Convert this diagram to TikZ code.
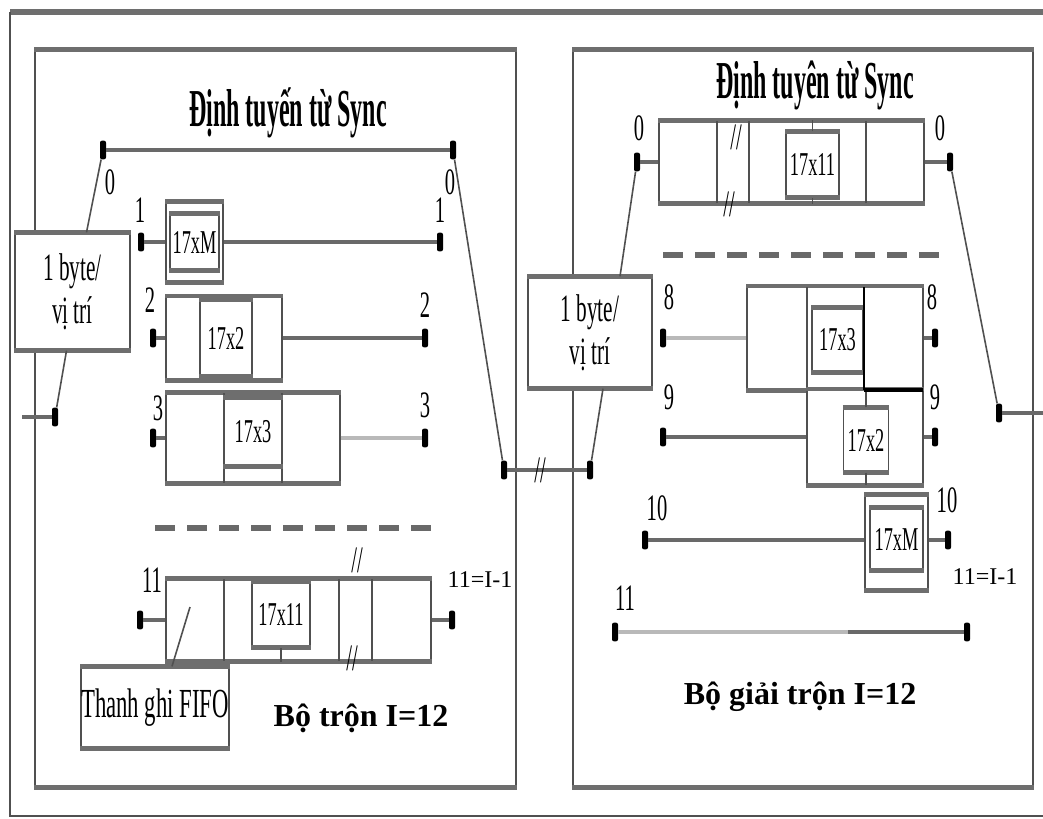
\documentclass[tikz,border=0pt]{standalone}
\usepackage{fontspec}
\setmainfont{Liberation Serif}
\newfontfamily\narrowfont[FakeStretch=0.55]{Liberation Serif}
\newfontfamily\tallfont[FakeStretch=0.45]{Liberation Serif}
\usetikzlibrary{positioning}
\definecolor{wiregray}{RGB}{105,105,105}
\definecolor{palegray}{RGB}{185,185,185}
\definecolor{edgegray}{RGB}{80,80,80}
\definecolor{bargray}{RGB}{110,110,110}
\newlength\unitpx
\setlength\unitpx{0.75pt}

\tikzset{
  bar/.style={draw=bargray, line width=3.5pt},
  cell/.style={draw=edgegray, line width=1pt, fill=white, inner sep=0pt,
    append after command={(\tikzlastnode.north west) edge[bar] (\tikzlastnode.north east)
      (\tikzlastnode.south west) edge[bar] (\tikzlastnode.south east)}},
  sz/.style 2 args={minimum width=#1\unitpx, minimum height=#2\unitpx},
  term/.style={fill=black, rounded corners=1.5pt, minimum width=4.5pt, minimum height=14pt, inner sep=0pt},
  wire/.style={draw=wiregray, line width=3.5pt},
  palewire/.style={draw=palegray, line width=3.5pt},
  mux/.style={draw=edgegray, line width=1.2pt},
  divider/.style={draw=edgegray, line width=1pt},
  gap/.style={draw=wiregray, line width=4pt, dash pattern=on 15pt off 9pt},
  lab/.style={font=\narrowfont\fontsize{28}{28}\selectfont, inner sep=0pt},
  tag/.style={font=\narrowfont\fontsize{25}{26}\selectfont},
  heading/.style={font=\tallfont\bfseries\fontsize{40}{42}\selectfont, inner sep=0pt},
  muxtext/.style={font=\narrowfont\fontsize{29}{32}\selectfont, align=center},
  slash/.style={font=\narrowfont\fontsize{28}{28}\selectfont, inner sep=0pt},
  caption/.style={font=\bfseries\fontsize{24}{26}\selectfont, inner sep=0pt},
  note/.style={font=\fontsize{18}{20}\selectfont, fill=white, inner sep=1pt},
}

\begin{document}
\begin{tikzpicture}[x=0.75pt, y=-0.75pt]
\useasboundingbox (0,0) rectangle (1043,818);

% outer frame
\draw[bar, line width=4.5pt] (10,12) -- (1043,12);
\draw[mux] (10,12) -- (10,816) -- (1043,816);

% the two panels
\node[cell, sz={481}{737}] (lpanel) at (275.5,418.5) {};
\node[cell, sz={460}{737}] (rpanel) at (803,418.5) {};

% ---- interleaver (left)
\node[heading] (ltitle) at (288,113) {Định tuyến từ Sync};
\node[term] (t0a) at (103,150) {};
\node[term] (t0b) at (453,150) {};
\draw[wire] (t0a) -- (t0b);

% row 1
\node[cell, sz={57}{80}] (m1) at (194.5,242) {};
\node[cell, tag, sz={49}{56}] (m1in) at (m1) {17xM};
\node[term] (t1a) at (141,242) {};
\node[term] (t1b) at (440,242) {};
\draw[wire] (t1a) -- (t1a -| m1.west);
\draw[wire] (m1.east) -- (t1b);

% row 2
\node[cell, sz={116}{83}] (d2) at (224,338) {};
\node[cell, tag, sz={52}{75}] (d2in) at (226,338) {17x2};
\node[term] (t2a) at (153,338) {};
\node[term] (t2b) at (425,338) {};
\draw[wire] (t2a) -- (t2a -| d2.west);
\draw[wire] (d2.east) -- (t2b);

% row 3
\node[cell, sz={174}{90}] (d3) at (253,438) {};
\foreach \x in {224,282} \draw[divider] (\x,393) -- (\x,483);
\node[cell, tag, sz={58}{68}] (d3in) at (253,432) {17x3};
\node[term] (t3a) at (153,438) {};
\node[term] (t3b) at (425,438) {};
\draw[wire] (t3a) -- (t3a -| d3.west);
\draw[palewire] (d3.east) -- (t3b);

\draw[gap] (155,528) -- (432,528);

% row 11
\node[cell, sz={265}{82}] (d11) at (298.5,620) {};
\foreach \x in {224,339,372} \draw[divider] (\x,579) -- (\x,661);
\node[cell, tag, sz={58}{65}] (d11in) at (281,614.5) {17x11};
\draw[divider] (d11in.south) -- (d11in.south |- d11.south);
\node[slash] (ls1) at (357,560) {//};
\node[slash] (ls2) at (352,658) {//};
\node[term] (t11a) at (140,620) {};
\node[term] (t11b) at (452,620) {};
\draw[wire] (t11a) -- (t11a -| d11.west);
\draw[wire] (d11.east) -- (t11b);
\node[note] (lnote) at (480,580) {11=I-1};

% FIFO register
\node[cell, sz={146}{81}, font=\narrowfont\fontsize{31}{32}\selectfont] (fifo) at (155,707.5) {Thanh ghi FIFO};
\coordinate (fifotip) at (190,607);
\draw[mux] ([xshift=17\unitpx]fifo.north) -- (fifotip);
\node[caption] (lcap) at (361,718) {Bộ trộn I=12};

% input switch
\node[cell, muxtext, sz={115}{117}] (lmux) at (72.5,291.5) {1 byte/\\vị trí};
\node[term] (tin) at (55,417) {};
\coordinate (lin) at (22,417);
\draw[wire] (lin) -- (tin);
\draw[mux] ([xshift=14\unitpx]lmux.north) -- (t0a);
\draw[mux] ([xshift=-6\unitpx]lmux.south) -- (tin);

% channel between the two
\node[term] (tm) at (504,470) {};
\node[term] (tn) at (590,470) {};
\draw[mux] (t0b) -- (tm);
\draw[wire] (tm) -- (tn);
\node[slash] (ms) at (540,470) {//};

% ---- de-interleaver (right)
\node[cell, muxtext, sz={124}{111}] (rmux) at (590,332.5) {1 byte/\\vị trí};
\draw[mux] (tn) -- ([xshift=13\unitpx]rmux.south);

\node[heading] (rtitle) at (815,85) {Định tuyên từ Sync};

% row 0
\node[cell, sz={265}{82}] (e0) at (791.5,162) {};
\foreach \x in {717,749,866} \draw[divider] (\x,121) -- (\x,203);
\node[cell, tag, sz={53}{65}] (e0in) at (812.5,164.5) {17x11};
\draw[divider] (e0in.north) -- (e0in.north |- e0.north);
\draw[divider] (e0in.south) -- (e0in.south |- e0.south);
\node[slash] (rs1) at (736,137) {//};
\node[slash] (rs2) at (729,204) {//};
\node[term] (u0a) at (637,162) {};
\node[term] (u0b) at (950,162) {};
\draw[wire] (u0a) -- (u0a -| e0.west);
\draw[wire] (e0.east) -- (u0b);
\draw[mux] ([xshift=30\unitpx]rmux.north) -- (u0a);

% output switch
\node[term] (uout) at (999,413) {};
\coordinate (rout) at (1043,413);
\draw[mux] (u0b) -- (uout);
\draw[wire] (uout) -- (rout);

\draw[gap] (663,255) -- (940,255);

% row 8
\node[cell, sz={176}{103}] (e8) at (835,338) {};
\draw[divider] (807,287) -- (807,389);
\node[cell, tag, sz={51}{64}] (e8in) at (837.5,340) {17x3};
\node[term] (u8a) at (663,338) {};
\node[term] (u8b) at (935,338) {};
\draw[palewire] (u8a) -- (u8a -| e8.west);
\draw[wire] (e8.east) -- (u8b);

% row 9
\node[cell, sz={116}{95}] (e9) at (865,437) {};
\node[cell, tag, sz={45}{64}] (e9in) at (866,440) {17x2};
\draw[divider] (e9in.north) -- (e9in.north |- e9.north);
\draw[divider] (e9in.south) -- (e9in.south |- e9.south);
\draw[black, line width=1.5pt] (864,287) -- (864,390);
\draw[black, line width=3pt] (864,390) -- (923,390);
\node[term] (u9a) at (663,437) {};
\node[term] (u9b) at (935,437) {};
\draw[wire] (u9a) -- (u9a -| e9.west);
\draw[wire] (e9.east) -- (u9b);

% row 10
\node[cell, sz={63}{95}] (e10) at (896.5,542.5) {};
\node[cell, tag, sz={53}{62}] (e10in) at (896.5,539) {17xM};
\node[term] (u10a) at (645,540) {};
\node[term] (u10b) at (948,540) {};
\draw[wire] (u10a) -- (u10a -| e10.west);
\draw[wire] (u10a -| e10.east) -- (u10b);
\node[note] (rnote) at (985,577) {11=I-1};

% row 11
\node[term] (u11a) at (615,632) {};
\node[term] (u11b) at (967,632) {};
\coordinate (u11m) at (848,632);
\draw[palewire] (u11a) -- (u11m);
\draw[wire] (u11m) -- (u11b);

\node[caption] (rcap) at (800,697) {Bộ giải trộn I=12};

% line numbers
\foreach \n/\x/\y/\t in {a0/110/182/0, b0/450/182/0, a1/140/210/1, b1/440/210/1,
    a2/150/300/2, b2/425/305/2, a3/158/408/3, b3/425/405/3, a11/152/580/11,
    c0/639/128/0, d0/940/128/0, c8/669/297/8, d8/932/297/8, c9/669/397/9,
    d9/935/397/9, c10/657/508/10, d10/947/500/10, c11/625/598/11}
  \node[lab] (lab\n) at (\x,\y) {\t};
\end{tikzpicture}
\end{document}
